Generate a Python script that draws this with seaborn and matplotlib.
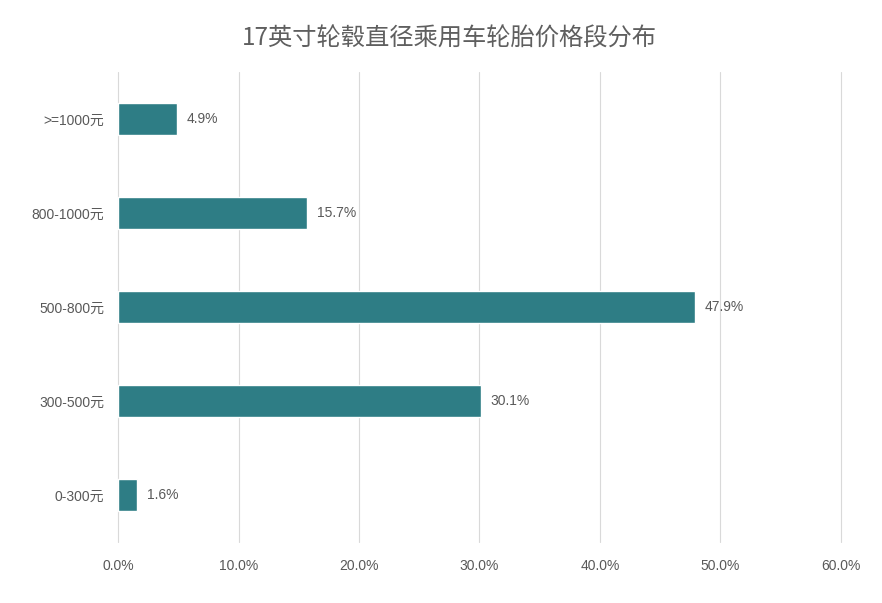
import matplotlib
matplotlib.use("Agg")
import matplotlib.pyplot as plt
import seaborn as sns
import pandas as pd
from matplotlib.ticker import FuncFormatter

# data
price_bands = ['>=1000元', '800-1000元', '500-800元', '300-500元', '0-300元']
shares = [4.9, 15.7, 47.9, 30.1, 1.6]
x_ticks = [0, 10, 20, 30, 40, 50, 60]

sns.set_style('white')
plt.rcParams['font.family'] = ['Liberation Sans', 'Noto Sans CJK SC', 'DejaVu Sans']

df = pd.DataFrame({'band': price_bands, 'share': shares})

fig = plt.figure(figsize=(8.82, 6.03), dpi=100)
ax = fig.add_axes([0.1338, 0.1012, 0.8197, 0.7794])

sns.barplot(data=df, x='share', y='band', orient='h', color='#2e7d85',
            saturation=1, width=0.35, ax=ax, zorder=3)

txt = '#595959'
for i, v in enumerate(shares):
    ax.text(v + 0.8, i, f'{v:.1f}%', va='center', ha='left',
            fontsize=10, color=txt, zorder=4)

ax.set_xlim(0, 60)
ax.set_xticks(x_ticks)
ax.xaxis.set_major_formatter(FuncFormatter(lambda x, p: f'{x:.1f}%'))
ax.grid(axis='x', color='#d9d9d9', linewidth=0.8, zorder=0)
for gl in ax.get_xgridlines():
    gl.set_clip_on(False)
ax.set_axisbelow(True)
for s in ax.spines.values():
    s.set_visible(False)
ax.tick_params(axis='both', length=0, colors=txt, labelsize=10)
ax.tick_params(axis='x', pad=12)
ax.tick_params(axis='y', pad=10)
ax.set_xlabel('')
ax.set_ylabel('')

fig.suptitle('17英寸轮毂直径乘用车轮胎价格段分布', x=0.51, y=0.957,
             fontsize=17.5, color='#5f5f5f',
             family=['Noto Sans CJK SC', 'DejaVu Sans'])

fig.savefig('out.png', dpi=100)
